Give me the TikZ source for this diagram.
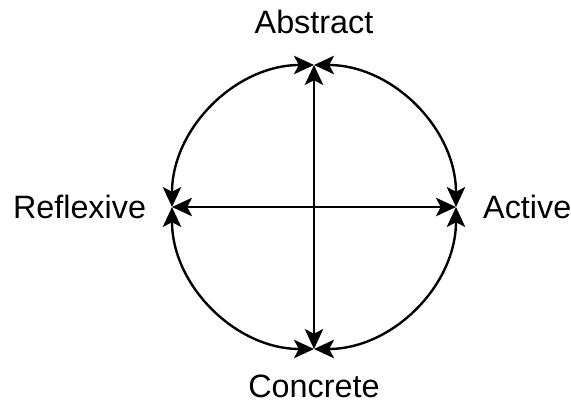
\documentclass[tikz,border=0pt]{standalone}
\usepackage{fontspec}
\setmainfont{Liberation Sans}
\usetikzlibrary{arrows.meta,positioning}

\begin{document}
\begin{tikzpicture}[
    >={Stealth[length=0.5cm,width=0.46cm,inset=0.12cm]},
    line width=1.7pt,
    lbl/.style={inner sep=0pt,font=\fontsize{23}{27}\selectfont}
  ]
  \useasboundingbox (0,0) rectangle (14.275,10.175);

  \coordinate (c) at (7.85,5);
  \coordinate (t) at (7.85,8.55);
  \coordinate (r) at (11.4,5);
  \coordinate (b) at (7.85,1.45);
  \coordinate (l) at (4.3,5);

  \node[lbl,above=0.75cm of t] (abs) {Abstract};
  \node[lbl,below=0.62cm of b] (con) {Concrete};
  \node[lbl,left=0.62cm of l] (ref) {Reflexive};
  \node[lbl,right=0.65cm of r] (act) {Active};

  \draw[<->] (t) arc (90:0:3.55);
  \draw[<->] (r) arc (0:-90:3.55);
  \draw[<->] (b) arc (270:180:3.55);
  \draw[<->] (l) arc (180:90:3.55);

  \draw[<->] (t) -- (b);
  \draw[<->] (l) -- (r);

\end{tikzpicture}
\end{document}
